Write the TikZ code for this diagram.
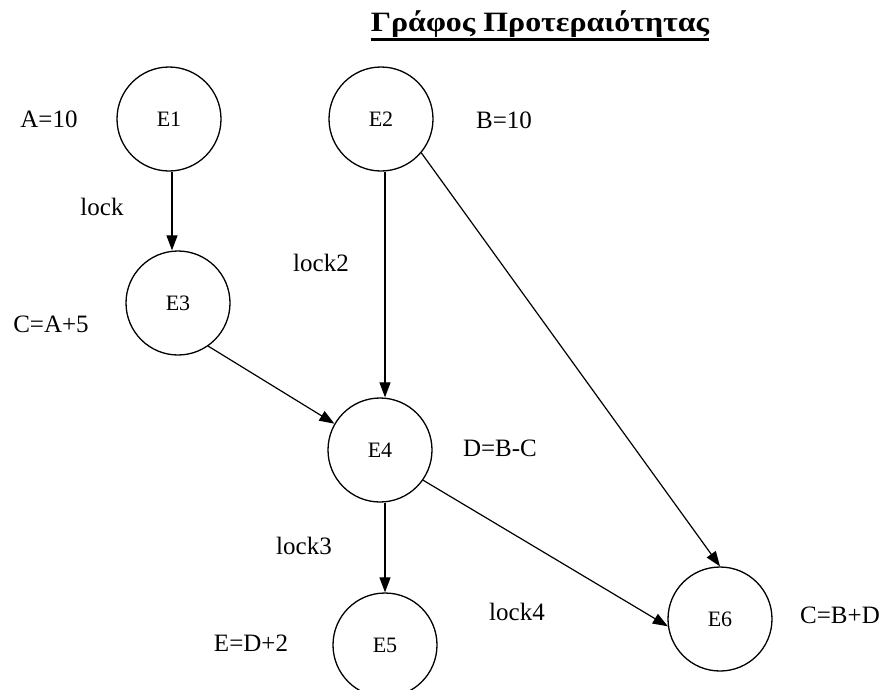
\documentclass[tikz,border=0pt]{standalone}
\usepackage{fontspec}
\setmainfont{Liberation Serif}
\usepackage{tikz}
\usetikzlibrary{arrows.meta}

\tikzset{
  ev/.style={circle,draw,line width=1.3pt,minimum size=104pt,inner sep=0pt,
    font=\fontsize{22}{24}\selectfont},
  lbl/.style={font=\fontsize{25}{28}\selectfont,inner sep=0pt},
  dep/.style={line width=1.2pt,-{Triangle[length=15pt,width=11pt]}}
}

\begin{document}
\begin{tikzpicture}[x=1pt,y=-1pt]
  \useasboundingbox (0,0) rectangle (888,689);
  % title
  \node[anchor=base,font=\fontsize{28}{32}\selectfont\bfseries,inner sep=0pt] (title) at (540,31) {\scalebox{1.14}[1]{Γράφος Προτεραιότητας}};
  \draw[line width=2.6pt] ([yshift=-8.5pt]title.base west) -- ([yshift=-8.5pt]title.base east);
  % events
  \node[ev] (E1) at (169,119) {E1};
  \node[ev] (E2) at (381,119) {E2};
  \node[ev] (E3) at (178,303) {E3};
  \node[ev] (E4) at (380,450) {E4};
  \node[ev] (E5) at (385,645) {E5};
  \node[ev] (E6) at (720,619) {E6};
  % statements and locks
  \node[lbl] (a) at (49,119) {A=10};
  \node[lbl] (b) at (504,120) {B=10};
  \node[lbl] (c) at (51,324) {C=A+5};
  \node[lbl] (d) at (500,448) {D=B-C};
  \node[lbl] (e) at (251,643) {E=D+2};
  \node[lbl] (f) at (840,615) {C=B+D};
  \node[lbl] (l1) at (102,207) {lock};
  \node[lbl] (l2) at (321,263) {lock2};
  \node[lbl] (l3) at (304,546) {lock3};
  \node[lbl] (l4) at (517,612) {lock4};
  % precedence
  \draw[dep] ([xshift=3pt]E1.south) -- ([xshift=3pt]E1.south |- E3.north);
  \draw[dep] ([xshift=4pt]E2.south) -- ([xshift=4pt]E2.south |- E4.north);
  \draw[dep] (E2.-40) -- (E6.north);
  \draw[dep] (E3.-55) -- (E4.150);
  \draw[dep] (E5.north |- E4.south) -- (E5.north);
  \draw[dep] (E4.-35) -- (E6.188);
\end{tikzpicture}
\end{document}
